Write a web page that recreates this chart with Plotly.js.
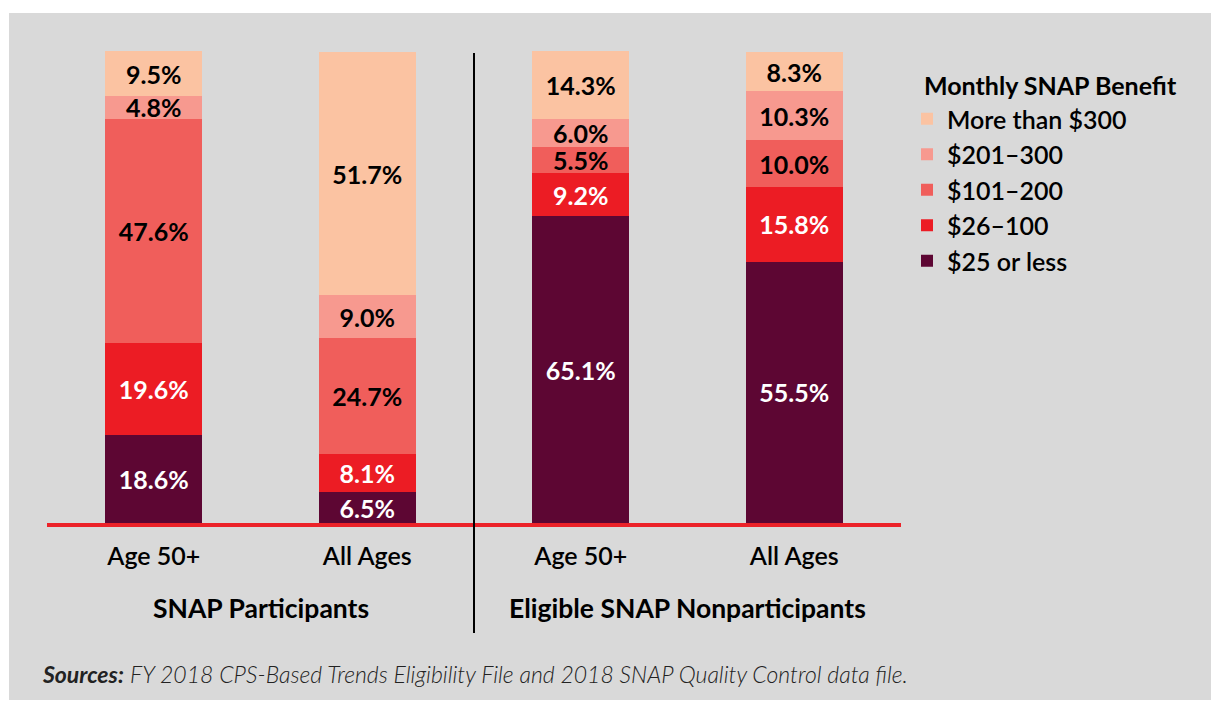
<!DOCTYPE html>
<html>
<head>
<meta charset="utf-8">
<script src="https://cdn.plot.ly/plotly-3.0.1.min.js"></script>
<style>html,body{margin:0;padding:0;background:#fff;}#chart{width:1213px;height:702px;}</style>
</head>
<body>
<div id="chart"></div>
<script>
// ---- data ----
const categories = ["Age 50+", "All Ages", "Age 50+", "All Ages"];
const groups = ["SNAP Participants", "Eligible SNAP Nonparticipants"];
const seriesNames = ["$25 or less", "$26\u2013100", "$101\u2013200", "$201\u2013300", "More than $300"];
const s25orLess   = [18.6, 6.5, 65.1, 55.5];
const s26to100    = [19.6, 8.1, 9.2, 15.8];
const s101to200   = [47.6, 24.7, 5.5, 10.0];
const s201to300   = [4.8, 9.0, 6.0, 10.3];
const sMore300    = [9.5, 51.7, 14.3, 8.3];
const legendTitle = "Monthly SNAP Benefit";
const sourceNote = "FY 2018 CPS-Based Trends Eligibility File and 2018 SNAP Quality Control data file.";

const seriesValues = [s25orLess, s26to100, s101to200, s201to300, sMore300];
const colors = ["#5d0633", "#ec1c24", "#f05e5b", "#f7998f", "#fbc3a2"];
const textColors = ["#ffffff", "#ffffff", "#000000", "#000000", "#000000"];
const FONT = "Lato, 'Source Sans Pro', 'Noto Sans', sans-serif";

// plot area: x 47..901 px, y 50..523 px
const PT = 50, PB = 523, PL = 47, PW = 854, PH = PB - PT;
const px2py = py => (PB - py) / PH;
const px2px = p => (p - PL) / PW;

const xIdx = categories.map((_, i) => i);
const traces = seriesValues.map((vals, k) => ({
  type: "bar",
  name: seriesNames[k],
  x: xIdx,
  y: vals,
  marker: { color: colors[k], line: { width: 0 } },
  text: vals.map(v => v.toFixed(1) + "%"),
  textposition: "inside",
  insidetextanchor: "middle",
  textangle: 0,
  constraintext: "none",
  cliponaxis: false,
  textfont: { family: FONT, size: 25, color: textColors[k], weight: 700 },
  hoverinfo: "skip"
}));

const layout = {
  width: 1213, height: 702,
  margin: { l: PL, r: 1213 - PL - PW, t: PT, b: 702 - PB, pad: 0 },
  paper_bgcolor: "#ffffff",
  plot_bgcolor: "rgba(0,0,0,0)",
  barmode: "stack",
  bargap: 0.546,
  uniformtext: { mode: "show", minsize: 25 },
  font: { family: FONT, color: "#000" },
  xaxis: {
    range: [-0.5, 3.5], tickvals: xIdx, ticktext: categories,
    showgrid: false, zeroline: false,
    showline: true, linecolor: "#ec2229", linewidth: 4,
    ticks: "outside", ticklen: 8, tickcolor: "rgba(0,0,0,0)",
    tickfont: { family: FONT, size: 25, color: "#000", weight: 600 },
    fixedrange: true
  },
  yaxis: {
    range: [0, 100.4], visible: false, fixedrange: true
  },
  showlegend: true,
  legend: {
    x: px2px(907), xanchor: "left", y: px2py(96), yanchor: "top",
    traceorder: "reversed",
    bgcolor: "rgba(0,0,0,0)",
    font: { family: FONT, size: 25, color: "#000", weight: 600 },
    itemclick: false, itemdoubleclick: false
  },
  shapes: [
    { type: "rect", xref: "paper", yref: "paper", x0: px2px(9), x1: px2px(1211), y0: px2py(700), y1: px2py(13),
      fillcolor: "#d9d9d9", line: { width: 0 }, layer: "below" },
    { type: "line", xref: "x", yref: "paper", x0: 1.5, x1: 1.5, y0: px2py(53), y1: px2py(633),
      line: { color: "#000", width: 2 } }
  ],
  annotations: [
    { xref: "paper", yref: "paper", x: px2px(922), y: px2py(85), xanchor: "left", yanchor: "middle",
      text: "<b>" + legendTitle + "</b>", showarrow: false,
      font: { family: FONT, size: 25, color: "#000" } },
    { xref: "x", yref: "paper", x: 0.5, y: px2py(608), text: "<b>" + groups[0] + "</b>", showarrow: false,
      font: { family: FONT, size: 26.5, color: "#000" }, yanchor: "middle" },
    { xref: "x", yref: "paper", x: 2.5, y: px2py(608), text: "<b>" + groups[1] + "</b>", showarrow: false,
      font: { family: FONT, size: 26.5, color: "#000" }, yanchor: "middle" },
    { xref: "paper", yref: "paper", x: px2px(40), y: px2py(674), xanchor: "left", yanchor: "middle",
      text: "<b><i>Sources:</i></b> <i>" + sourceNote + "</i>", showarrow: false,
      font: { family: FONT, size: 23, color: "#222", weight: 300 } }
  ]
};

Plotly.newPlot("chart", traces, layout, { displayModeBar: false, staticPlot: true });
</script>
</body>
</html>
